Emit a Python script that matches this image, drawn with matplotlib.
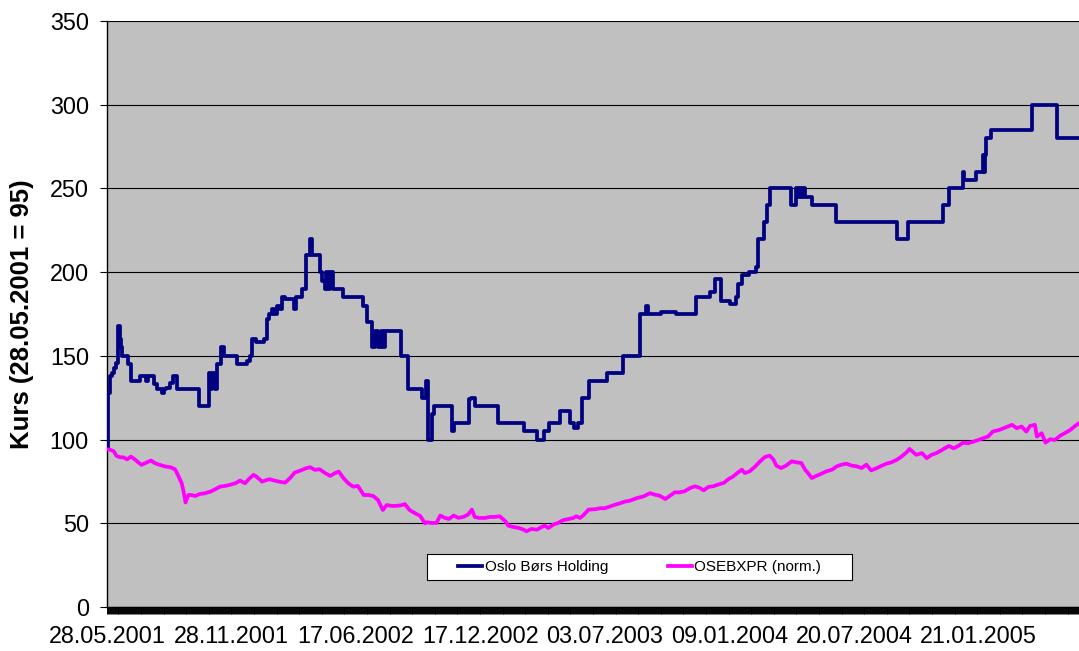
import numpy as np
import matplotlib
matplotlib.use("Agg")
import matplotlib.pyplot as plt
from matplotlib.patches import Rectangle

plt.rcParams["font.family"] = ["Liberation Sans", "DejaVu Sans"]

# x = trading day index, 0 = 28.05.2001
N_DAYS = 1015
LABEL_STEP = 130
date_labels = ["28.05.2001", "28.11.2001", "17.06.2002", "17.12.2002",
               "03.07.2003", "09.01.2004", "20.07.2004", "21.01.2005"]

# Oslo Børs Holding: day of each price change, and the new price
obh_day = [0, 1, 3, 5, 7, 9, 12, 14, 15, 16,
           22, 25, 34, 41, 43, 49, 52, 57, 60, 62,
           66, 69, 73, 96, 106, 108, 110, 113, 115, 119,
           122, 136, 146, 149, 151, 156, 164, 167, 169, 172,
           174, 177, 181, 183, 186, 195, 197, 204, 208, 212,
           214, 222, 225, 228, 229, 231, 233, 236, 246, 267,
           272, 277, 280, 283, 286, 288, 290, 307, 314, 329,
           333, 335, 339, 341, 360, 362, 378, 380, 384, 408,
           435, 449, 456, 462, 473, 483, 488, 492, 496, 503,
           522, 539, 557, 563, 565, 579, 594, 615, 630, 635,
           641, 651, 657, 659, 663, 670, 678, 680, 686, 689,
           692, 714, 719, 721, 723, 725, 727, 729, 736, 761,
           825, 836, 873, 879, 894, 895, 907, 915, 916, 917,
           918, 923, 966, 992, 1015]
obh_price = [95, 128, 138, 140, 143, 146, 168, 160, 155, 150,
             145, 135, 138, 135, 138, 133, 130, 128, 130, 131,
             134, 138, 130, 120, 140, 130, 140, 130, 145, 155,
             150, 145, 147, 150, 160, 158, 160, 172, 175, 178,
             175, 180, 178, 185, 184, 178, 185, 190, 210, 220,
             210, 200, 195, 190, 200, 190, 200, 190, 185, 180,
             170, 155, 165, 155, 165, 155, 165, 150, 130, 125,
             135, 100, 115, 120, 105, 110, 124, 125, 120, 110,
             105, 100, 105, 110, 117, 110, 107, 110, 125, 135,
             140, 150, 175, 180, 175, 176, 175, 185, 188, 196,
             183, 181, 185, 193, 198, 200, 203, 220, 230, 240,
             250, 240, 250, 245, 250, 245, 250, 245, 240, 230,
             220, 230, 240, 250, 260, 255, 260, 270, 260, 270,
             280, 285, 300, 280, 280]

# OSEBXPR normalised to 95 on 28.05.2001
osebx_day = [0, 3, 7, 10, 14, 17, 21, 25, 29, 33,
             36, 41, 46, 50, 55, 61, 66, 71, 74, 78,
             80, 82, 85, 88, 92, 97, 102, 108, 113, 118,
             123, 128, 134, 139, 144, 149, 153, 156, 162, 167,
             170, 175, 181, 186, 191, 196, 202, 207, 212, 217,
             222, 228, 233, 238, 242, 247, 252, 257, 262, 268,
             273, 278, 283, 288, 292, 297, 303, 308, 311, 316,
             322, 327, 332, 334, 339, 344, 348, 353, 357, 362,
             367, 372, 377, 381, 384, 389, 395, 400, 405, 410,
             416, 419, 424, 430, 435, 438, 443, 449, 454, 457,
             461, 466, 471, 476, 482, 487, 490, 494, 497, 503,
             510, 515, 520, 525, 530, 536, 541, 546, 553, 560,
             567, 572, 577, 583, 588, 593, 598, 603, 609, 614,
             619, 623, 628, 633, 638, 644, 649, 654, 659, 663,
             666, 671, 677, 682, 687, 692, 696, 699, 704, 709,
             715, 720, 725, 729, 732, 736, 741, 746, 751, 757,
             762, 767, 772, 778, 783, 788, 793, 798, 804, 809,
             814, 819, 825, 830, 835, 838, 845, 851, 856, 861,
             866, 872, 879, 884, 889, 894, 899, 905, 910, 915,
             920, 925, 932, 939, 945, 950, 955, 960, 964, 969,
             971, 976, 980, 985, 990, 995, 1000, 1006, 1011, 1015]
osebx_norm = [94.2, 94.0, 93.0, 90.2, 89.4, 89.4, 88.2, 89.8, 88.2, 86.2,
              84.9, 86.2, 87.5, 85.9, 84.9, 83.9, 83.5, 82.3, 78.9, 73.9,
              68.9, 62.4, 66.9, 66.9, 66.3, 67.5, 67.9, 68.9, 70.3, 71.9,
              72.3, 72.9, 73.9, 75.5, 73.9, 76.9, 78.9, 77.9, 74.9, 75.9,
              76.3, 75.5, 74.7, 74.3, 76.9, 80.3, 81.5, 82.7, 83.5, 81.9,
              82.3, 79.9, 78.3, 79.9, 80.9, 76.9, 73.9, 71.9, 72.3, 66.9,
              66.9, 66.3, 63.9, 57.9, 60.9, 60.4, 60.4, 60.9, 61.5, 57.9,
              55.9, 54.4, 50.0, 50.6, 50.2, 50.2, 54.6, 53.2, 52.6, 54.6,
              53.2, 53.8, 55.2, 58.2, 53.8, 53.2, 53.2, 53.8, 53.8, 54.2,
              51.2, 48.6, 47.8, 47.2, 46.2, 45.2, 46.6, 46.2, 47.8, 48.6,
              47.2, 49.2, 50.2, 51.8, 52.6, 53.2, 54.2, 53.2, 54.6, 58.2,
              58.4, 59.0, 59.0, 60.0, 61.0, 62.0, 63.0, 63.5, 65.0, 66.0,
              68.0, 67.1, 66.5, 64.5, 66.5, 68.5, 68.5, 69.1, 71.1, 72.1,
              71.1, 69.7, 71.7, 72.1, 73.1, 74.1, 76.4, 78.0, 80.4, 82.0,
              80.0, 81.0, 84.0, 87.0, 89.6, 90.4, 88.0, 84.4, 83.0, 84.4,
              87.0, 86.4, 86.0, 82.0, 80.0, 77.0, 78.4, 79.6, 81.0, 82.0,
              84.0, 85.0, 85.6, 84.4, 84.0, 83.0, 85.0, 81.6, 83.0, 84.4,
              85.6, 86.4, 88.0, 90.0, 92.4, 94.4, 90.9, 91.9, 88.9, 90.9,
              91.9, 93.8, 96.2, 94.8, 96.2, 98.2, 97.8, 98.8, 99.8, 100.8,
              101.8, 104.8, 105.8, 107.4, 108.8, 106.8, 107.8, 104.8, 108.2, 108.8,
              101.8, 103.8, 98.2, 100.2, 99.8, 102.2, 103.8, 105.8, 108.2, 109.8]

assert len(obh_day) == len(obh_price)
assert len(osebx_day) == len(osebx_norm)

fig = plt.figure(figsize=(10.79, 6.51), dpi=100)
ax = fig.add_axes([107 / 1079, 1 - 607 / 651, 972 / 1079, 586 / 651])
ax.set_facecolor("#C0C0C0")

ax.plot(obh_day, obh_price, color="#000080", lw=2.7,
        drawstyle="steps-post", label="Oslo Børs Holding", zorder=3)
ax.plot(osebx_day, osebx_norm, color="#FF00FF", lw=2.7,
        label="OSEBXPR (norm.)", zorder=3)

ax.set_xlim(0, N_DAYS)
ax.set_ylim(0, 350)
ax.set_yticks(np.arange(0, 351, 50))
ax.yaxis.grid(True, color="black", lw=0.8)
ax.set_axisbelow(True)

ax.set_xticks(np.arange(0, LABEL_STEP * len(date_labels), LABEL_STEP))
ax.set_xticklabels(date_labels)
ax.set_xticks(np.arange(0, N_DAYS + 1), minor=True)
ax.tick_params(axis="x", which="both", length=5, width=0.7, color="black",
               labelsize=16.8, pad=8)
ax.tick_params(axis="y", length=5, width=0.8, labelsize=16.8, pad=8)

for side in ("top", "right"):
    ax.spines[side].set_visible(False)
for side in ("left", "bottom"):
    ax.spines[side].set_linewidth(1.0)

ax.set_ylabel("Kurs (28.05.2001 = 95)", fontsize=18.5, fontweight="bold",
              va="center")
ax.yaxis.set_label_coords(-0.0875, 0.5)

# legend box
ax.add_patch(Rectangle((0.3292, 0.0461), 0.4372, 0.0444, transform=ax.transAxes,
                       facecolor="white", edgecolor="black", lw=0.8, zorder=4))
leg = ax.legend(loc="center", bbox_to_anchor=(0.548, 0.068), ncol=2,
                frameon=False, fontsize=11, handlelength=1.6,
                handletextpad=0.15, columnspacing=3.9)
leg.set_zorder(5)

fig.savefig("out.png", dpi=100, facecolor="white")
